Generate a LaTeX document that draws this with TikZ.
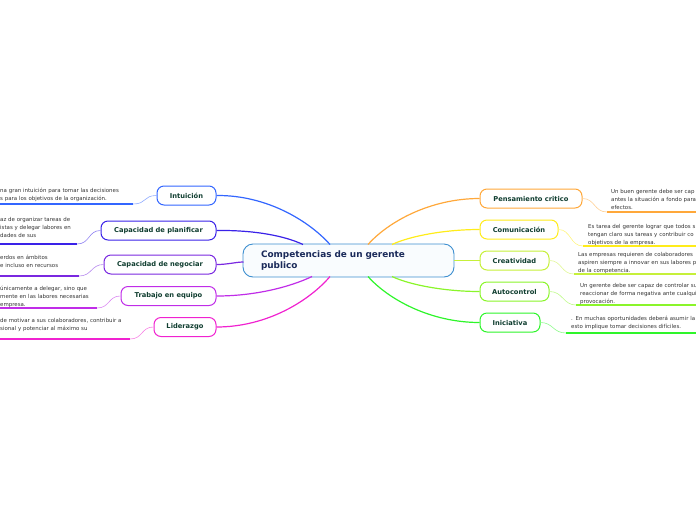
\documentclass[tikz,border=0pt]{standalone}
\usepackage{fontspec}
\setmainfont{DejaVu Sans}
\definecolor{intC}{HTML}{3366FF}
\definecolor{planC}{HTML}{3A22E8}
\definecolor{negC}{HTML}{7A28E0}
\definecolor{trabC}{HTML}{C02DE8}
\definecolor{lidC}{HTML}{F022D0}
\definecolor{pensC}{HTML}{FFA83A}
\definecolor{comC}{HTML}{FFEC1A}
\definecolor{creaC}{HTML}{C6F03A}
\definecolor{autoC}{HTML}{8AF52A}
\definecolor{iniC}{HTML}{2EF52A}
\definecolor{cenC}{HTML}{3D8FD0}
\definecolor{cenT}{HTML}{1A2A5A}
\definecolor{kidT}{HTML}{103E30}
\definecolor{bodyT}{HTML}{333333}
\tikzset{
  central/.style={draw=cenC, fill=cenC!3, line width=0.9pt, rounded corners=10pt,
    minimum height=33pt, text width=175pt, inner xsep=18pt, align=left,
    font=\fontsize{8.9}{11}\selectfont\bfseries, text=cenT},
  kid/.style={draw=#1, fill=white, line width=1pt, rounded corners=7pt,
    minimum height=19pt, inner sep=0pt, font=\fontsize{6.7}{7}\selectfont\bfseries, text=kidT},
  body/.style={anchor=base west, inner sep=0pt, align=left, text width=200pt,
    font=\fontsize{5.45}{8}\selectfont, text=bodyT},
  main/.style={draw=#1, line width=1.2pt},
  sub/.style={draw=#1!55, line width=0.6pt},
  under/.style={draw=#1, line width=1.6pt}
}
\begin{document}
\begin{tikzpicture}[x=1pt,y=-1pt]
\useasboundingbox (0,0) rectangle (696,520);
\clip (0,0) rectangle (696,520);
% central
\node[central] (c) at (348.5,260.5) {Competencias de un gerente\\publico};
% left children
\node[kid=intC, minimum width=59pt] (int) at (186.5,195.5) {Intuición};
\node[kid=planC, minimum width=115pt] (plan) at (158.5,230.5) {Capacidad de planificar};
\node[kid=negC, minimum width=112pt] (neg) at (160,264.5) {Capacidad de negociar};
\node[kid=trabC, minimum width=95pt] (trab) at (168.5,296) {Trabajo en equipo};
\node[kid=lidC, minimum width=62pt] (lid) at (185,327) {Liderazgo};
% right children
\node[kid=pensC, minimum width=102pt] (pens) at (531,198.5) {Pensamiento critico};
\node[kid=comC, minimum width=78pt] (com) at (519,229.5) {Comunicación};
\node[kid=creaC, minimum width=69pt] (crea) at (514.5,260.5) {Creatividad};
\node[kid=autoC, minimum width=69pt] (auto) at (514.5,291.5) {Autocontrol};
\node[kid=iniC, minimum width=60pt] (ini) at (510,322.5) {Iniciativa};
% attach points on central node
\coordinate (cInt) at (330,244.5);
\coordinate (cPlan) at (303,244.5);
\coordinate (cNeg) at (243.5,262);
\coordinate (cTrab) at (312,276.5);
\coordinate (cLid) at (330,276.5);
\coordinate (cPens) at (368,244.5);
\coordinate (cCom) at (392,244.5);
\coordinate (cCrea) at (453.5,260.5);
\coordinate (cAuto) at (392,276.5);
\coordinate (cIni) at (368,276.5);
% main connectors
\draw[main=intC] (int.east) .. controls (268,195) and (310,222) .. (cInt);
\draw[main=planC] (plan.east) .. controls (255,230) and (285,236) .. (cPlan);
\draw[main=negC] (neg.east) .. controls (228,264.5) and (236,262) .. (cNeg);
\draw[main=trabC] (trab.east) .. controls (255,296) and (290,287) .. (cTrab);
\draw[main=lidC] (lid.east) .. controls (268,327) and (310,300) .. (cLid);
\draw[main=pensC] (cPens) .. controls (388,222) and (430,198.5) .. (pens.west);
\draw[main=comC] (cCom) .. controls (410,236) and (445,229.5) .. (com.west);
\draw[main=creaC] (cCrea) .. controls (462,260.5) and (470,260.5) .. (crea.west);
\draw[main=autoC] (cAuto) .. controls (410,285) and (445,291.5) .. (auto.west);
\draw[main=iniC] (cIni) .. controls (388,299) and (430,322.5) .. (ini.west);
% underline coordinates
\coordinate (uIntA) at (133,204); \coordinate (uIntB) at (0,204);
\coordinate (uPlanA) at (77,244); \coordinate (uPlanB) at (0,244);
\coordinate (uNegA) at (79,276); \coordinate (uNegB) at (0,276);
\coordinate (uTrabA) at (97,308); \coordinate (uTrabB) at (0,308);
\coordinate (uLidA) at (130,339); \coordinate (uLidB) at (0,339);
\coordinate (uPensA) at (607,212); \coordinate (uPensB) at (696,212);
\coordinate (uComA) at (583,246); \coordinate (uComB) at (696,246);
\coordinate (uCreaA) at (574,274); \coordinate (uCreaB) at (696,274);
\coordinate (uAutoA) at (576,305); \coordinate (uAutoB) at (696,305);
\coordinate (uIniA) at (566,333); \coordinate (uIniB) at (696,333);
% sub connectors
\draw[sub=intC] (int.west) .. controls (143,195.5) and (147,204) .. (uIntA);
\draw[sub=planC] (plan.west) .. controls (88,230.5) and (90,244) .. (uPlanA);
\draw[sub=negC] (neg.west) .. controls (91,264.5) and (92,276) .. (uNegA);
\draw[sub=trabC] (trab.west) .. controls (108,296) and (110,308) .. (uTrabA);
\draw[sub=lidC] (lid.west) .. controls (141,327) and (143,339) .. (uLidA);
\draw[sub=pensC] (pens.east) .. controls (595,198.5) and (594,212) .. (uPensA);
\draw[sub=comC] (com.east) .. controls (571,229.5) and (570,246) .. (uComA);
\draw[sub=creaC] (crea.east) .. controls (562,260.5) and (561,274) .. (uCreaA);
\draw[sub=autoC] (auto.east) .. controls (563,291.5) and (563,305) .. (uAutoA);
\draw[sub=iniC] (ini.east) .. controls (553,322.5) and (553,333) .. (uIniA);
% underlines
\draw[under=intC] (uIntA) -- (uIntB);
\draw[under=planC] (uPlanA) -- (uPlanB);
\draw[under=negC] (uNegA) -- (uNegB);
\draw[under=trabC] (uTrabA) -- (uTrabB);
\draw[under=lidC] (uLidA) -- (uLidB);
\draw[under=pensC] (uPensA) -- (uPensB);
\draw[under=comC] (uComA) -- (uComB);
\draw[under=creaC] (uCreaA) -- (uCreaB);
\draw[under=autoC] (uAutoA) -- (uAutoB);
\draw[under=iniC] (uIniA) -- (uIniB);
% body texts left
\node[body] (tInt) at (0,192) {na gran intuición para tomar las decisiones\\s para los objetivos de la organización.};
\node[body] (tPlan) at (0,221) {az de organizar tareas de\\istas y delegar labores en\\dades de sus};
\node[body] (tNeg) at (0,259) {erdos en ámbitos\\e incluso en recursos};
\node[body] (tTrab) at (0,290) {únicamente a delegar, sino que\\mente en las labores necesarias\\empresa.};
\node[body] (tLid) at (0,322) {de motivar a sus colaboradores, contribuir a\\sional y potenciar al máximo su};
% body texts right
\node[body] (tPens) at (611,193) {Un buen gerente debe ser cap\\antes la situación a fondo para\\efectos.};
\node[body] (tCom) at (588,228) {Es tarea del gerente lograr que todos s\\tengan claro sus tareas y contribuir co\\objetivos de la empresa.};
\node[body] (tCrea) at (578,256) {Las empresas requieren de colaboradores\\aspiren siempre a innovar en sus labores p\\de la competencia.};
\node[body] (tAuto) at (580,287) {Un gerente debe ser capaz de controlar su\\reaccionar de forma negativa ante cualqui\\provocación.};
\node[body] (tIni) at (571,320) {. En muchas oportunidades deberá asumir la\\esto implique tomar decisiones difíciles.};
\end{tikzpicture}
\end{document}
